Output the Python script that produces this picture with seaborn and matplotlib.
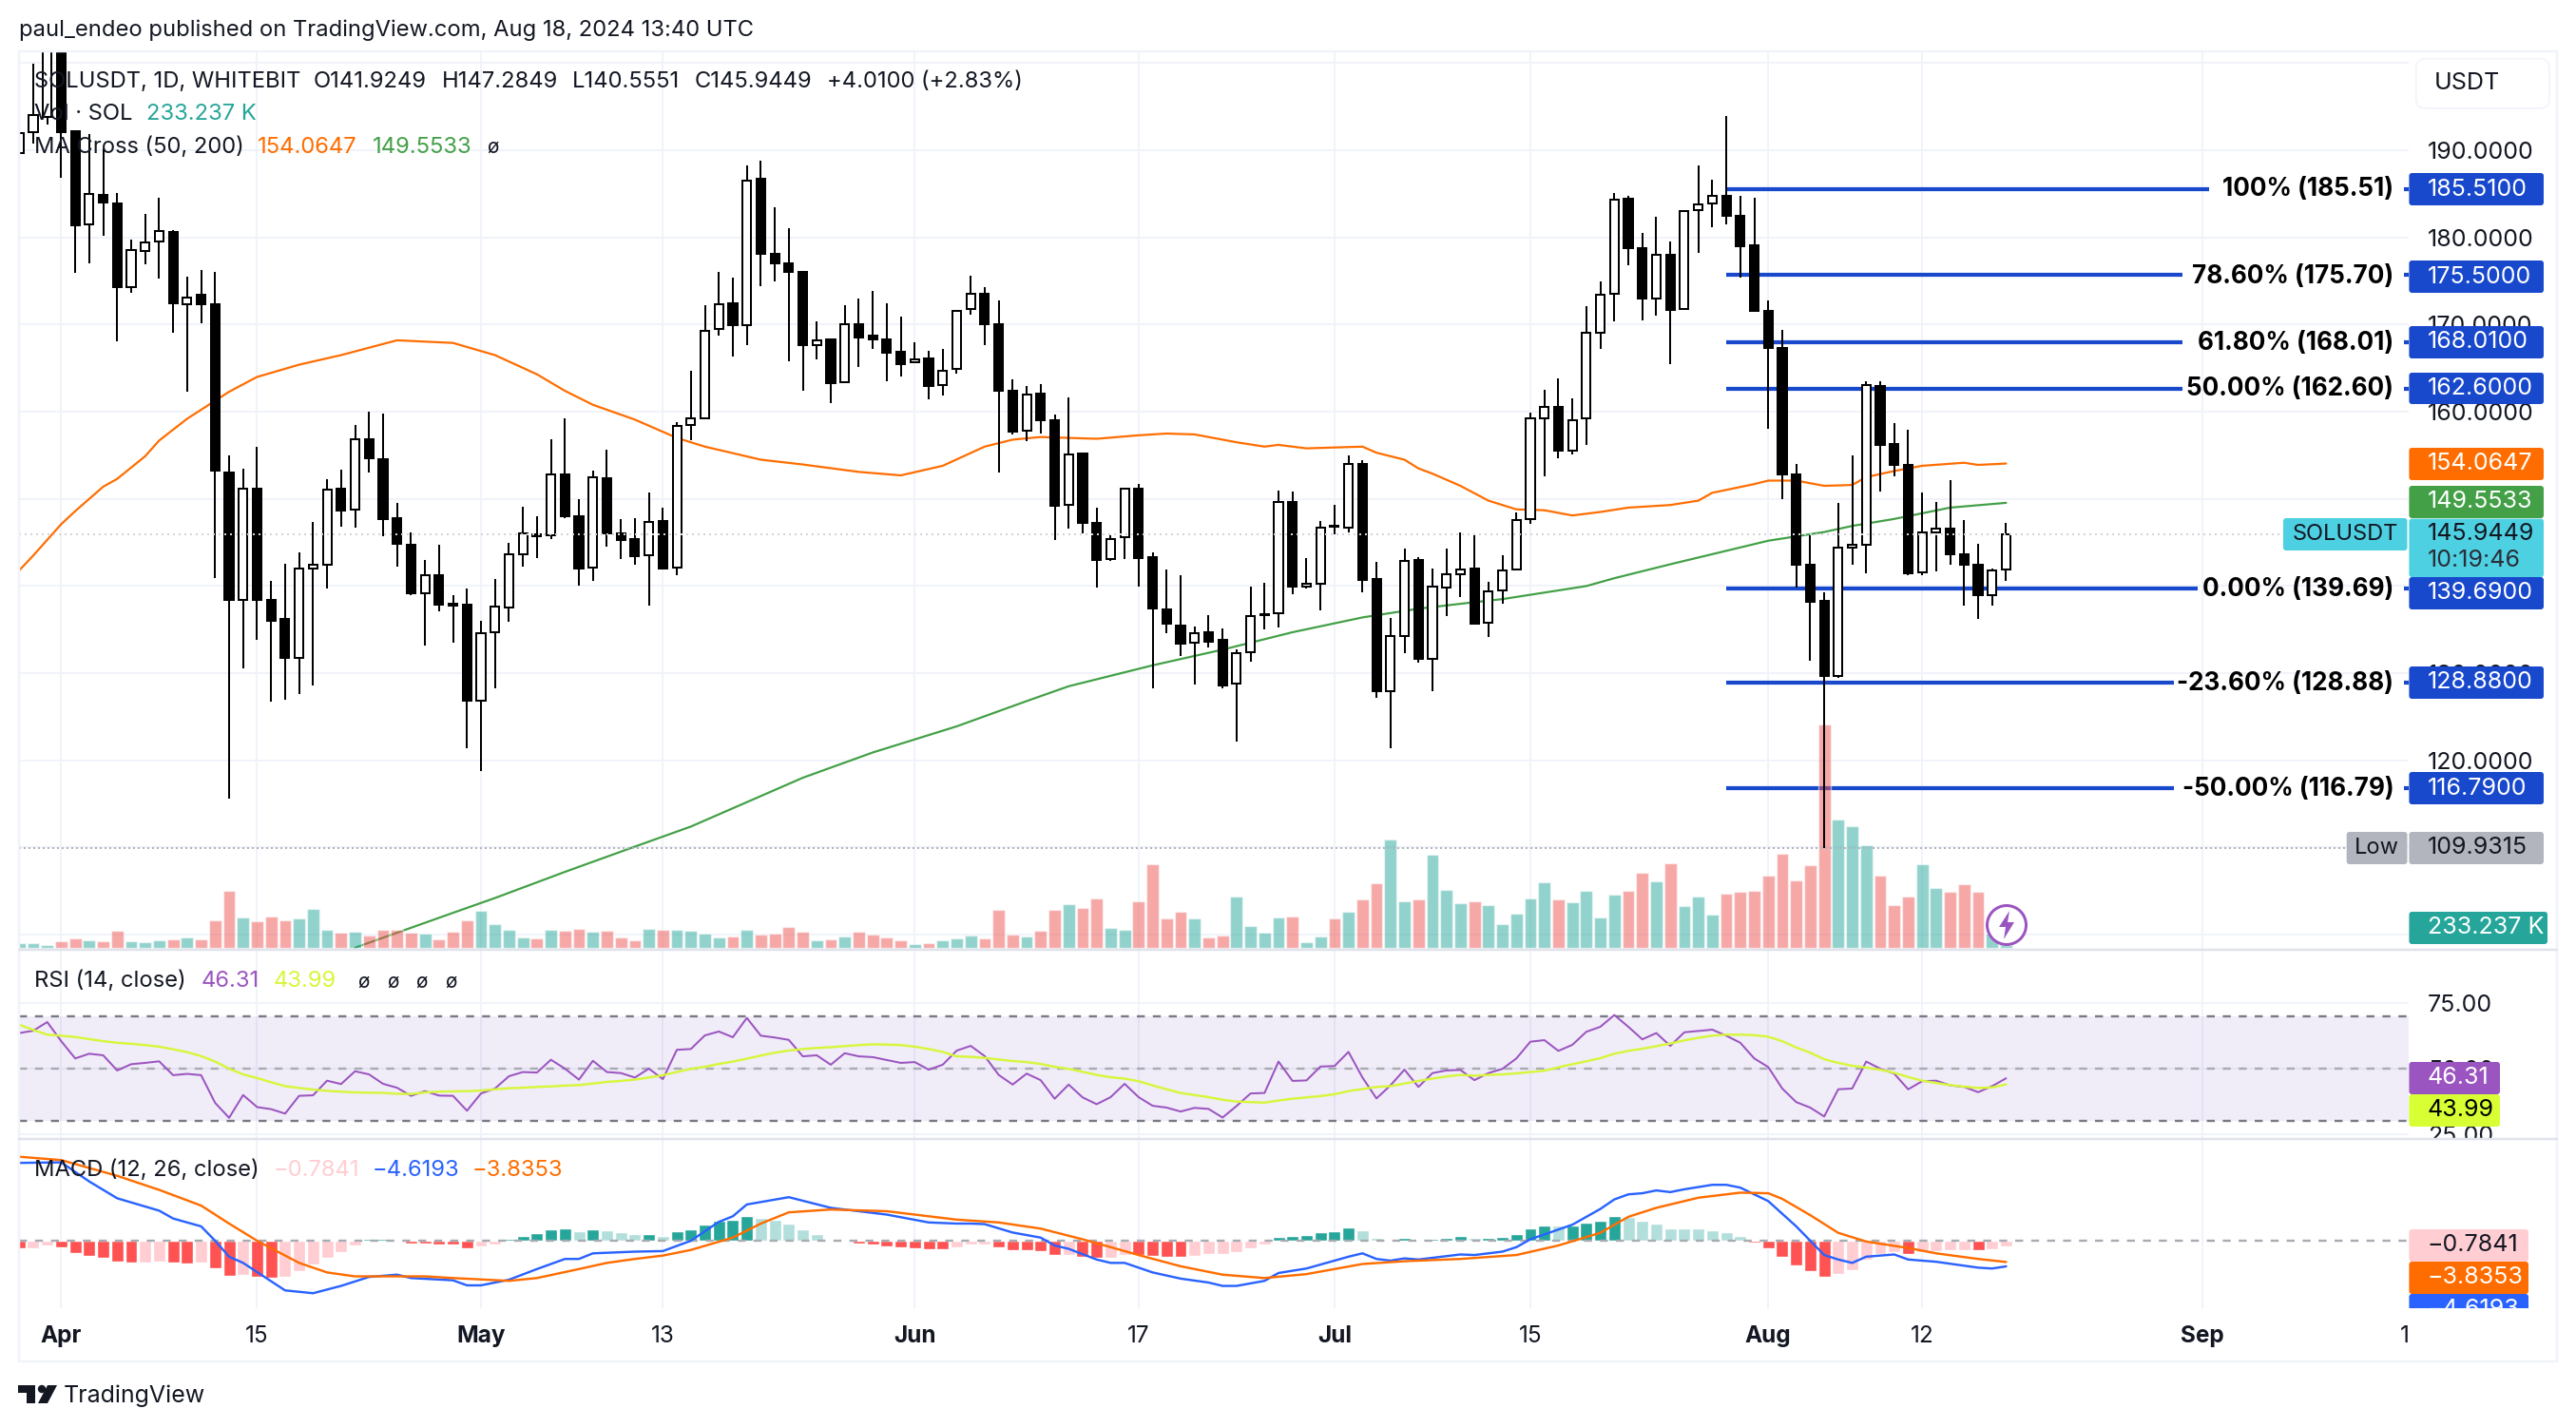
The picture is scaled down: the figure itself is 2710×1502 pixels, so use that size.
import numpy as np
import pandas as pd
import seaborn as sns
import matplotlib
matplotlib.use('Agg')
import matplotlib.pyplot as plt
from matplotlib.patches import FancyBboxPatch, Rectangle, Polygon, Circle

# candles, first one is 29 Mar, days counted from 1 Apr
FIRST_DAY = -3
OPEN = [189.7,192.1,193.8,204,192.2,181.5,184.9,183.9,174.3,178.5,
        179.5,180.6,172.3,173.4,172.3,153,138.4,151.2,138.4,136.2,
        131.8,142,142.4,151.2,148.8,156.9,154.6,147.8,144.7,139.2,
        141.3,138,137.9,126.8,134.7,137.5,143.6,145.9,145.8,152.8,
        148,142.1,152.4,146,145.4,143.5,147.5,142.1,158.5,159.3,
        169.5,172.4,169.9,186.7,178.1,177,176,167.6,168.3,163.4,
        170.1,168.7,168.3,166.9,165.7,166.1,163.1,164.9,171.8,173.5,
        170.1,162.4,157.8,162.1,159,149.3,155.2,147.3,143.1,145.6,
        151.2,143.3,137.3,135.5,133.5,134.7,133.8,128.8,132.4,136.7,
        136.9,149.6,139.9,140.3,146.9,146.7,154,140.8,127.9,134.3,
        143,131.6,139.8,141.4,142,135.75,139.5,141.9,147.7,159.3,
        160.6,155.5,159.2,169.1,173.5,184.4,178.8,173,178,171.8,
        183.1,183.9,184.8,182.5,179.1,171.6,167.3,152.8,142.5,138.3,
        129.7,144.4,144.7,163,156.3,153.9,141.6,146.2,146.6,143.7,
        142.5,139,141.92]
HIGH = [193,199.9,206,206,192.2,191.9,190.2,185.1,179.8,182.7,
        184.6,180.8,175.5,176.3,176,155,153.5,156,140.6,142.6,
        143.9,147.4,152.3,153.4,158.5,160,159.8,149.5,146.2,143,
        144.7,139,139.7,136,140.8,145,149.1,148,156.9,159.2,
        150,153.3,155.7,147.7,147.8,150.7,149,158.8,164.7,172.2,
        176,175.4,188.3,188.8,183.5,181.1,176.2,170.4,168.4,172.2,
        173,173.9,172.5,170.9,168,167,167.2,171.7,175.6,174.3,
        172.8,163.7,163,163.2,159.7,161.7,155.3,149,145.8,151.3,
        151.7,143.9,141.9,141.2,135.4,136.7,135.1,132.7,139.9,140.4,
        151,150.8,143.2,147.5,149.3,155,154.4,142.8,136.3,144.3,
        143.3,142,144.3,146.2,146,140.5,143.5,148.5,159.9,162.5,
        163.8,161.5,172.1,175,185.1,184.8,180.5,182.4,179.5,183.1,
        188.3,186.6,193.9,184.8,184.6,172.8,169.4,154,145.8,139.3,
        149.5,155,163.5,163.5,158.7,157.9,150.7,149.7,152.2,147.6,
        144.8,142,147.28]
LOW = [183.5,190.8,193,186.9,175.9,177,180.2,168.1,173.6,176.9,
       175.3,169.1,162.3,170.2,140.9,115.6,130.6,133.8,126.7,127,
       127.6,128.6,139.75,146.8,146.7,153,145.7,142.2,138.9,133.2,
       137.1,133.5,121.4,118.8,128.3,135.9,142.2,143.2,145.4,147.8,
       140,140.6,144.5,143.1,142.4,137.8,141.9,141.3,156.7,159.2,
       168.7,166.3,167.6,174.4,175,165.8,162.4,166,161,163.3,
       165.1,167.2,163.5,164,165.6,161.4,161.9,164.4,171.1,167.7,
       153,157.4,156.6,157.5,145.3,146.6,146.1,139.8,142.9,143.1,
       139.9,128.3,134.6,132,128.7,132.95,128.3,122.2,131.3,135,
       135.2,139.1,139.7,137.2,145.9,146.2,139.3,127.2,121.4,132.3,
       131.2,127.9,136.6,138.7,135.6,134.1,138,141.8,147.1,152.6,
       154.7,155.1,156.2,167.2,170.4,176.8,170.5,171,165.5,171.7,
       178.2,181.2,181.5,175.4,171.5,158.1,150,139.8,131.4,109.93,
       129.5,142.4,141.5,150.8,152.6,141.3,141.3,141.7,142.5,137.8,
       136.2,137.7,140.56]
CLOSE = [192,194,205,192.1,181.4,185,184,174.3,178.6,179.4,
         180.7,172.4,173.1,172.3,153.2,138.4,151.2,138.4,136,131.8,
         142,142.5,151.1,148.7,156.9,154.7,147.7,144.8,139.2,141.3,
         137.9,137.7,126.8,134.6,137.6,143.7,146,145.7,152.8,148,
         142,152.5,146,145.3,143.4,147.4,142,158.4,159.2,169.3,
         172.3,169.9,186.5,178.1,177,176.1,167.6,168.2,163.3,170.1,
         168.55,168.3,166.8,165.5,166,163,164.7,171.6,173.5,170.1,
         162.4,157.7,162,159,149.2,155.1,147.2,143,145.4,151.2,
         143.2,137.4,135.7,133.4,134.6,133.6,128.6,132.3,136.6,136.8,
         149.7,139.9,140.3,146.7,146.8,154,140.7,127.9,134.3,142.9,
         131.6,139.9,141.4,141.9,135.7,139.4,141.8,147.6,159.2,160.6,
         155.5,159,169.1,173.4,184.3,178.8,173,178,171.7,183,
         183.8,184.8,182.5,179,171.6,167.3,152.8,142.5,138.2,129.7,
         144.4,144.7,163.1,156.2,153.9,141.5,146.2,146.6,143.6,142.5,
         139,141.8,145.94]
# volume in thousands of SOL
VOLUME = [433,467,233,667,967,767,667,1767,667,567,767,867,1067,867,2867,5967,3167,2767,3267,2867,
          3067,4067,1867,1567,1667,1267,1867,1867,1567,1467,867,1667,2867,3867,2467,1867,1067,967,1867,1767,
          1967,1667,1767,1067,767,1967,1867,1867,1767,1467,1067,1167,1867,1367,1467,2167,1667,767,867,1167,
          1667,1367,1067,767,367,467,767,967,1267,967,3967,1367,1167,1767,3967,4567,4167,5167,2067,1867,
          4867,8767,3067,3767,3067,1067,1267,5367,2267,1567,3167,3267,567,1167,3067,3767,5067,6767,11367,4867,
          5067,9767,6067,4667,4867,4467,2467,3567,5167,6867,5067,4767,5967,3167,5567,5967,7867,6967,8867,4367,
          5367,3467,5667,5867,5967,7567,9867,7067,8667,23500,13467,12767,10767,7567,4467,5367,8767,6267,5867,6667,
          5867,1500,233]

MA50_DAYS = [-3,-2,0,1,3,4,6,7,9,12,14,17,20,24,28,31,34,36,38,41,44,46,50,53,57,60,63,66,68,70,74,77,79,81,84,86,87,89,93,94,96,97,98,100,102,104,106,108,110,112,115,117,118,121,122,124,126,128,129,131,133,136,137,139]
MA50_VALUES = [141.8,143.5,147.1,148.6,151.4,152.3,154.9,156.7,159.2,162.3,164,165.4,166.5,168.2,167.9,166.5,164.3,162.4,160.8,159.1,157,156,154.5,153.95,153.1,152.7,153.8,156,156.8,157.1,156.9,157.3,157.5,157.4,156.5,156,156.2,155.8,156,155.3,154.5,153.5,152.9,151.5,149.8,148.8,148.7,148.1,148.5,149,149.3,149.8,150.7,151.7,152.1,152.1,151.5,151.6,152.5,153.2,153.8,154.15,153.9,154.06]
MA200_DAYS = [21,28,31,36,41,45,48,53,58,64,69,72,78,83,88,93,97,101,103,109,111,115,122,126,128,131,135,139]
MA200_VALUES = [98.5,102.5,104.2,107.2,110.1,112.4,114.5,118,120.9,123.9,126.8,128.5,130.9,132.7,134.7,136.4,137.4,138.15,138.5,140,140.9,142.5,145.2,146.2,146.9,147.7,149,149.55]

RSI = [63.6,64.5,67.8,60.5,53.9,55.7,55.1,49.3,51.7,52.2,52.8,47.5,48,47.5,36.9,31.2,39.9,35.3,34.5,32.8,
       39.6,39.8,45.4,44.1,49,47.8,44.2,42.7,39.6,41.4,39.7,39.6,33.9,40.5,42.4,47.1,48.7,48.5,53.4,50,
       45.8,53,48.7,48.3,46.6,50,46,57.2,57.5,62.7,64.2,62,69.4,62.6,61.9,61,54.7,55.1,51.5,55.9,
       54.7,54.4,53.3,52.2,52.5,49.6,51.5,56.9,58.7,54.8,47.6,43.9,48.1,45.6,38.5,43.9,39,36.4,39.1,44.2,
       39.1,35.8,35.1,33.6,35,34.6,31.3,35.7,40.5,40.7,52.7,45.3,45.5,50.8,51,56.4,46.6,38.6,43.6,49.6,
       43,48.3,49.3,49.5,45.6,48.3,49.9,53.9,60.3,60.9,56.8,59.1,64.1,66,70.5,66,61.2,63.6,58.7,63.9,
       64.4,64.9,62.6,59.9,53.9,50.6,42.4,37.2,35.1,31.7,42.1,42.4,52.7,50,48.1,42.1,45.2,45.4,43.6,43,
       41,43.3,46.31]
RSI_MA = [66.8,64.8,63,62.6,62.1,61.3,60.5,59.9,59.5,59,58.4,57.4,56.3,54.8,52.7,50,47.8,46.4,44.8,43.3,
          42.6,42,41.5,41.2,40.9,40.8,40.7,40.4,40.3,40.9,41.2,41.3,41.4,41.6,42.1,42.5,42.7,43,43.2,43.5,
          43.7,44.3,44.9,45.3,45.8,46.6,47.5,48.7,49.9,50.7,51.8,52.7,53.8,55,56.1,56.9,57.5,57.9,58.2,58.6,
          59,59.3,59.2,59,58.4,57.5,56.4,54.7,54.5,54.1,53.5,52.9,52.5,51.8,50.7,49.9,48.8,47.6,46.7,46.2,
          45.2,43.6,42.1,40.7,39.9,39.1,38.1,37.4,37.2,37,37.8,38.5,39,39.5,40.2,41.4,42.2,43,43.3,44.3,
          45.3,46.2,47,47.6,47.3,47.6,47.8,48.2,48.7,49.2,50.5,51.7,52.8,54,55.7,56.8,57.6,58.6,59.6,60.8,
          61.8,62.6,63,63,62.8,62.2,60.5,58.1,56.1,53.6,52.2,51.1,50.4,49.6,48.4,46.8,45.4,44.5,43.7,43.1,
          42.6,42.8,43.99]

MACD_DAYS = [-3,0,2,4,7,8,10,11,12,13,16,18,20,22,24,25,28,29,30,32,34,36,37,38,41,43,45,47,48,49,52,55,59,62,64,65,66,68,70,71,72,74,75,76,78,80,82,83,84,86,87,89,92,93,94,95,96,97,100,101,103,104,105,108,110,111,112,113,114,115,116,118,119,120,122,124,126,127,128,129,131,132,134,137,138,139]
MACD_VALUES = [13.8,13.9,10.5,7.5,5.3,3.9,2.5,-0.06,-2.9,-4,-8.9,-9.4,-8.1,-6.5,-6.1,-6.7,-7.1,-8,-8,-7,-5.1,-3.3,-3.3,-2.3,-2,-1.9,-0.06,3.3,4.3,6.4,7.7,5.8,4.6,3.2,3,3,2.9,1.4,0.5,-0.9,-1.5,-3.4,-4,-4,-5.7,-6.8,-7.5,-8.1,-8.1,-7.2,-5.8,-5,-2.9,-2.3,-3.3,-3.6,-3.2,-3.4,-2.5,-2.6,-2,-1.2,0.2,2.8,5.6,7.3,8.2,8.4,8.9,8.6,9.1,9.9,9.9,9.4,7,2.5,-2.6,-3.4,-4,-2.9,-2.5,-3.4,-3.8,-4.85,-5,-4.62]
SIGNAL_DAYS = [-3,0,4,7,10,12,14,17,19,21,26,28,32,34,37,39,41,43,45,48,50,52,55,59,64,67,70,73,75,77,80,83,86,89,93,96,100,104,107,110,112,114,117,120,122,123,125,127,129,132,134,137,139]
SIGNAL_VALUES = [14.9,14.3,11.5,9,6.2,3,-0.06,-4,-5.7,-6.4,-6.4,-6.7,-7.2,-6.7,-5.1,-4,-3.3,-2.7,-1.7,0.5,3,5,5.5,5.2,3.7,3.2,2.1,0.2,-1.2,-2.6,-4.6,-6.1,-6.7,-6,-4.2,-3.7,-3.3,-2.6,-0.9,1.35,4.2,5.8,7.6,8.5,8.4,7.4,4.5,1.35,-0.2,-1.35,-2.3,-3.3,-3.84]
MACD_HIST = [-1.35,-1.35,-0.90,-1.19,-2.20,-2.77,-3.05,-3.78,-3.95,-3.95,-3.78,-3.95,-4.06,-3.95,-4.97,-6.32,-6.15,-6.49,-6.60,-6.49,
             -5.47,-4.29,-3.10,-2.09,-0.90,0.25,0.35,0.05,-0.51,-0.56,-0.68,-0.73,-1.35,-1.02,-0.68,0.28,0.79,1.30,1.98,2.09,
             1.64,1.98,1.81,1.47,1.13,1.19,0.79,1.64,1.98,2.82,3.50,3.61,4.35,4.01,3.67,2.99,1.98,1.13,0.17,0.17,
             -0.56,-0.68,-1.07,-1.24,-1.35,-1.52,-1.58,-1.24,-0.73,-0.73,-1.24,-1.75,-1.81,-1.92,-2.60,-2.60,-2.93,-3.10,-3.10,-2.60,
             -2.65,-2.77,-2.93,-2.99,-2.77,-2.43,-2.43,-2.09,-1.41,-0.73,0.62,0.79,0.96,1.47,1.64,2.31,1.81,0.45,0.11,0.45,
             0.11,0.28,0.45,0.79,0.45,0.51,0.62,1.13,2.14,2.65,2.65,2.71,3.16,3.50,4.35,4.18,3.50,2.99,2.14,2.14,
             2.14,1.81,1.47,0.79,-0.34,-1.41,-2.93,-4.46,-5.47,-6.49,-5.98,-5.30,-3.44,-2.48,-2.03,-2.43,-2.03,-1.92,-1.75,-1.75,
             -1.81,-1.52,-1.07]

FIB_LEVELS = ['100% (185.51)', '78.60% (175.70)', '61.80% (168.01)', '50.00% (162.60)', '0.00% (139.69)', '-23.60% (128.88)', '-50.00% (116.79)']
FIB_PRICES = [185.51, 175.70, 168.01, 162.60, 139.69, 128.88, 116.79]
FIB_TAGS = ['185.5100', '175.5000', '168.0100', '162.6000', '139.6900', '128.8800', '116.7900']

GRID_PRICES = [100, 110, 120, 130, 140, 150, 160, 170, 180, 190, 200]
PRICE_LABELS = ['', '', '120.0000', '130.0000', '', '', '160.0000', '170.0000', '180.0000', '190.0000', '']
RSI_TICKS = [25, 50, 75]
TIME_TICKS = [0, 14, 30, 43, 61, 77, 91, 105, 122, 133, 153]
TIME_LABELS = ['Apr', '15', 'May', '13', 'Jun', '17', 'Jul', '15', 'Aug', '12', 'Sep']

W, H = 2710, 1502
INK = '#131722'
GRID = '#F0F3FA'
BLUE = '#1848CC'
ORANGE = '#FF6D00'
GREEN = '#43A047'
PURPLE = '#9B55C0'
LIME = '#D8FF33'
TEAL = '#26A69A'
NUM = 18
LEG = 17.1

sns.set_theme(style='white')
plt.rcParams['font.family'] = ['Inter', 'DejaVu Sans']
plt.rcParams['axes.unicode_minus'] = False

fig = plt.figure(figsize=(W / 100, H / 100), dpi=100, facecolor='white')


def pane(x0, y0, x1, y1, z=1):
    return fig.add_axes([x0 / W, 1 - y1 / H, (x1 - x0) / W, (y1 - y0) / H], zorder=z)


def px(n):
    return n * 0.72


days = np.arange(FIRST_DAY, FIRST_DAY + len(CLOSE))
up = np.array(CLOSE) >= np.array(OPEN)
XLIM = (-3.016, 167.8)

# ---- main pane, three layers: grid and lines / volume / candles
ax = pane(20, 54, 2534.4, 999, 1)
ax_vol = pane(20, 54, 2534.4, 999, 2)
ax_top = pane(20, 54, 2534.4, 999, 3)

ax.set_xlim(*XLIM)
ax.set_ylim(98.26, 201.36)
sns.lineplot(x=MA50_DAYS, y=MA50_VALUES, color=ORANGE, linewidth=px(2.2), ax=ax, errorbar=None)
sns.lineplot(x=MA200_DAYS, y=MA200_VALUES, color=GREEN, linewidth=px(2.2), ax=ax, errorbar=None)
fib_end = [153.5, 151.6, 151.6, 151.6, 152.7, 151, 151]
ax.hlines(FIB_PRICES, 119, fib_end, colors=BLUE, linewidth=px(4.2), zorder=3)
ax.hlines(FIB_PRICES, 167.4, 167.8, colors=BLUE, linewidth=px(4.2), zorder=3)

vol_df = pd.DataFrame({'day': days, 'vol': VOLUME, 'dir': np.where(up, 'up', 'down')})
sns.barplot(data=vol_df, x='day', y='vol', hue='dir', palette={'up': TEAL, 'down': '#EF5350'},
            hue_order=['up', 'down'], native_scale=True, dodge=False, width=0.87, saturation=1,
            alpha=0.5, errorbar=None, legend=False, ax=ax_vol)
ax_vol.set_xlim(*XLIM)
ax_vol.set_ylim(-230, 94270)
ax_vol.axis('off')

ax_top.set_xlim(*XLIM)
ax_top.set_ylim(98.26, 201.36)
ax_top.vlines(days, LOW, HIGH, colors='black', linewidth=px(2), zorder=2)
ax_top.bar(days, np.abs(np.array(CLOSE) - np.array(OPEN)), bottom=np.minimum(OPEN, CLOSE), width=0.62,
           color=np.where(up, 'white', 'black'), edgecolor='black', linewidth=px(2), zorder=3)
ax_top.axhline(145.94, xmin=0, xmax=0.9473, color='#D1D4DC', linewidth=px(2), dashes=(1, 2), zorder=5)
ax_top.axhline(109.93, xmin=0, xmax=0.974, color='#B2B5BE', linewidth=px(2), dashes=(1, 1.5), zorder=5)
ax_top.axis('off')

# ---- rsi pane
ax_rsi = pane(20, 999, 2534.4, 1198, 1)
ax_rsi.set_xlim(*XLIM)
ax_rsi.set_ylim(23.1, 95.45)
ax_rsi.axhspan(30, 70, color='#7E57C2', alpha=0.11, linewidth=0)
for lev, col in zip([70, 50, 30], ['#787B86', '#A9ABB2', '#787B86']):
    ax_rsi.axhline(lev, color=col, linewidth=px(2.4), dashes=(3.5, 3.5))
sns.lineplot(x=days, y=RSI, color=PURPLE, linewidth=px(2), ax=ax_rsi, errorbar=None)
sns.lineplot(x=days, y=RSI_MA, color='#D6F73A', linewidth=px(2.4), ax=ax_rsi, errorbar=None)

# ---- macd pane
ax_macd = pane(20, 1198, 2534.4, 1376, 1)
hist = np.array(MACD_HIST)
prev = np.concatenate([[hist[0] + 1], hist[:-1]])
state = np.where(hist >= 0, np.where(hist > prev, 'up_strong', 'up_weak'),
                 np.where(hist < prev, 'down_strong', 'down_weak'))
hist_df = pd.DataFrame({'day': days, 'hist': hist, 'state': state})
sns.barplot(data=hist_df, x='day', y='hist', hue='state',
            palette={'up_strong': TEAL, 'up_weak': '#B2DFDB', 'down_strong': '#FF5252', 'down_weak': '#FFCDD2'},
            hue_order=['up_strong', 'up_weak', 'down_strong', 'down_weak'], native_scale=True, dodge=False,
            width=0.88, saturation=1, errorbar=None, legend=False, ax=ax_macd)
ax_macd.axhline(0, color='#A9ABB2', linewidth=px(2.4), dashes=(3.5, 3.5), zorder=1)
sns.lineplot(x=MACD_DAYS, y=MACD_VALUES, color='#2962FF', linewidth=px(2.4), ax=ax_macd, errorbar=None)
sns.lineplot(x=SIGNAL_DAYS, y=SIGNAL_VALUES, color=ORANGE, linewidth=px(2.4), ax=ax_macd, errorbar=None)
ax_macd.set_xlim(*XLIM)
ax_macd.set_ylim(-12.07, 18.06)

# ---- shared axis styling
for a in [ax, ax_rsi, ax_macd]:
    a.set_facecolor('none')
    a.set_xlabel('')
    a.set_ylabel('')
    for s in a.spines.values():
        s.set_visible(False)
    a.set_xticks(TIME_TICKS)
    a.set_axisbelow(True)
    a.grid(True, color=GRID, linewidth=px(2))
    a.tick_params(axis='both', length=0, labelbottom=False, labelleft=False)
    a.yaxis.tick_right()
    a.tick_params(axis='y', labelright=True, labelsize=NUM, labelcolor=INK, pad=14)

ax.set_yticks(GRID_PRICES)
ax.set_yticklabels(PRICE_LABELS)
ax_rsi.set_yticks(RSI_TICKS)
ax_rsi.set_yticklabels(['%.2f' % t for t in RSI_TICKS])
ax_macd.set_yticks([])
ax_macd.tick_params(axis='x', labelbottom=True, labelsize=17.5, labelcolor=INK, pad=13)
ax_macd.set_xticklabels(TIME_LABELS)
for lab, txt in zip(ax_macd.get_xticklabels(), TIME_LABELS):
    if not txt.isdigit():
        lab.set_fontweight('bold')

# ---- overlay in pixels for boxes, legends and frame
ov = fig.add_axes([0, 0, 1, 1], zorder=10)
ov.set_xlim(0, W)
ov.set_ylim(H, 0)
ov.axis('off')
ov.patch.set_alpha(0)


def box(x0, x1, y0, y1, color, z=4, edge='none', r=3):
    ov.add_patch(FancyBboxPatch((x0, y0), x1 - x0, y1 - y0, boxstyle='round,pad=0,rounding_size=%d' % r,
                                facecolor=color, edgecolor=edge, linewidth=px(1.5), zorder=z))


def put(x, y, s, color=INK, size=NUM, ha='left', weight='normal', z=5):
    return ov.text(x, y, s, color=color, fontsize=size, ha=ha, va='center', fontweight=weight, zorder=z)


def tag(y0, y1, color, s, tc='white', x1=2676):
    box(2534.4, x1, y0, y1, color)
    put(2553.8, (y0 + y1) / 2, s, tc)


# frame and pane separators
ov.add_patch(Rectangle((20, 54), 2670, 1378, fill=False, edgecolor=GRID, linewidth=px(2.5), zorder=1))
ov.plot([20, 2690], [999, 999], color='#E0E3EB', linewidth=px(2.5), zorder=7)
ov.plot([20, 2690], [1198, 1198], color='#E0E3EB', linewidth=px(2.5), zorder=7)

# fib tags
fib_boxes = [(182, 216), (274, 308), (343, 377), (392, 425), (607, 641), (701, 735), (812, 846)]
for lev, t, (y0, y1) in zip(FIB_LEVELS, FIB_TAGS, fib_boxes):
    tag(y0, y1, BLUE, t)
fib_text_y = [199, 291, 361, 409, 620, 719, 830]
for lev, y in zip(FIB_LEVELS, fib_text_y):
    put(2518.3, y, lev, 'black', 18.8, 'right', 'bold')

tag(471, 505, ORANGE, '154.0647')
tag(511, 545, GREEN, '149.5533')
box(2402, 2532.5, 545, 579, '#4DD0E1')
put(2467, 562, 'SOLUSDT', INK, 17, 'center')
box(2534.4, 2676, 545.6, 607, '#4DD0E1')
put(2553.8, 562, '145.9449')
put(2553.8, 590, '10:19:46', '#2A2E39')
box(2468.7, 2532.5, 875, 909, '#B2B5BE')
put(2500, 892, 'Low', INK, 17, 'center')
tag(875, 909, '#B2B5BE', '109.9315', INK)
tag(959, 993, TEAL, '233.237 K', x1=2680)

box(2541.7, 2682, 61.7, 114, 'white', edge=GRID, r=10)
put(2561, 87, 'USDT', INK, 18)

# rsi and macd tags
box(2534.4, 2630, 1117, 1151, PURPLE)
put(2553.8, 1134, '46.31', 'white')
box(2534.4, 2630, 1151, 1185, LIME)
put(2553.8, 1168, '43.99', 'black')
ov.add_patch(Rectangle((2534.4, 1199), 150, 16, facecolor='white', edgecolor='none', zorder=3))
box(2534.4, 2660, 1293, 1327, '#FFCDD2')
put(2553.8, 1310, '\u22120.7841', INK)
box(2534.4, 2660, 1327, 1361, ORANGE)
put(2553.8, 1344, '\u22123.8353', 'white')
box(2534.4, 2660, 1361, 1395, '#2962FF')
put(2553.8, 1378, '\u22124.6193', 'white')
ov.add_patch(Rectangle((2534.4, 1376), 150, 28, facecolor='white', edgecolor='none', zorder=6))
put(2530, 1406, '1', INK, 17.5, 'center', z=8)

# text legends
put(20, 32, 'paul_endeo published on TradingView.com, Aug 18, 2024 13:40 UTC', INK, LEG)
put(36.5, 86, 'SOLUSDT, 1D, WHITEBIT', INK, LEG)
for x, s in zip([330, 465, 601.6, 730.8, 869.7],
                ['O141.9249', 'H147.2849', 'L140.5551', 'C145.9449', '+4.0100 (+2.83%)']):
    put(x, 86, s, INK, LEG)
put(36.5, 120, 'Vol \u00b7 SOL', INK, LEG)
put(154, 120, '233.237 K', TEAL, LEG)
put(36.5, 155, 'MA Cross (50, 200)', INK, LEG)
put(271, 155, '154.0647', ORANGE, LEG)
put(391.5, 155, '149.5533', GREEN, LEG)
put(512.6, 155, '\u00f8', INK, 15)

put(36.5, 1032, 'RSI (14, close)', INK, LEG)
put(212, 1032, '46.31', PURPLE, LEG)
put(288, 1032, '43.99', '#D6F73A', LEG)
for x in [376, 407, 437.5, 468]:
    put(x, 1033, '\u00f8', INK, 15)
put(36.5, 1231, 'MACD (12, 26, close)', INK, LEG)
put(288, 1231, '\u22120.7841', '#FFCDD2', LEG)
put(392, 1231, '\u22124.6193', '#2962FF', LEG)
put(497, 1231, '\u22123.8353', ORANGE, LEG)

# replay badge
ov.add_patch(Circle((2111, 973), 20.5, facecolor='white', edgecolor=PURPLE, linewidth=px(3), zorder=5))
ov.add_patch(Polygon([(2114, 958), (2103, 975), (2110, 975), (2108, 988), (2119, 970), (2112, 970)],
                     closed=True, facecolor=PURPLE, edgecolor='none', zorder=6))

# logo
ov.add_patch(Polygon([(19, 1457), (37, 1457), (37, 1476), (28, 1476), (28, 1465), (19, 1465)],
                     closed=True, facecolor=INK, edgecolor='none'))
ov.add_patch(Circle((44, 1461), 4.2, facecolor=INK, edgecolor='none'))
ov.add_patch(Polygon([(50, 1457), (60, 1457), (50, 1476), (40, 1476)], closed=True, facecolor=INK, edgecolor='none'))
put(67, 1468, 'TradingView', INK, 18)

fig.savefig('out.png', dpi=100)
plt.clf()
